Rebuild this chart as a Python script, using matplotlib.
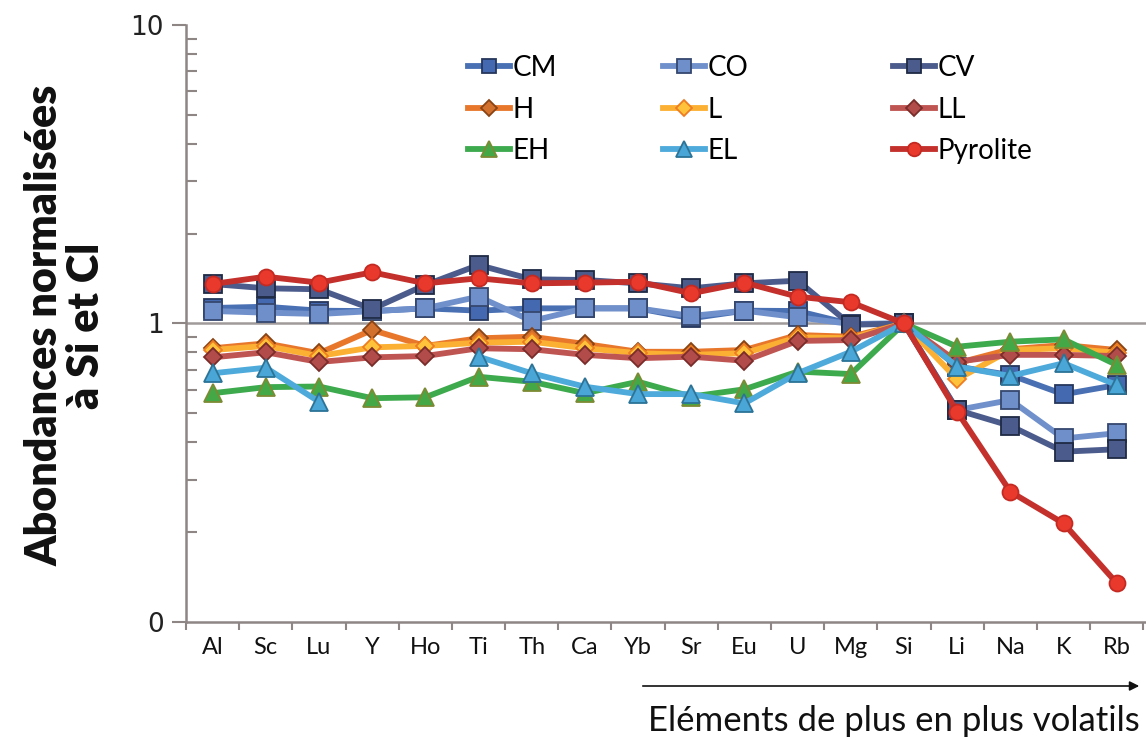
import numpy as np
import matplotlib
matplotlib.use("Agg")
import matplotlib.pyplot as plt
from matplotlib.ticker import FixedLocator, NullFormatter

plt.rcParams["font.family"] = ["Lato", "DejaVu Sans"]

# ─── data ─────────────────────────────────────────────────────────────────────
elements = ["Al", "Sc", "Lu", "Y", "Ho", "Ti", "Th", "Ca", "Yb", "Sr", "Eu",
            "U", "Mg", "Si", "Li", "Na", "K", "Rb"]
nan = np.nan

cm = [1.127, 1.138, 1.104, 1.10, 1.124, 1.104, 1.124, 1.124, 1.124, 1.041,
      1.104, 1.101, 0.996, 1.0, 0.717, 0.672, 0.579, 0.622]
co = [1.101, 1.087, 1.076, 1.10, 1.124, 1.230, 1.020, 1.124, 1.124, 1.060,
      1.104, 1.049, 0.996, 1.0, 0.513, 0.554, 0.412, 0.429]
cv = [1.356, 1.312, 1.302, 1.118, 1.346, 1.570, 1.406, 1.399, 1.363, 1.312,
      1.363, 1.391, 0.990, 1.0, 0.513, 0.454, 0.372, 0.379]
h = [0.826, 0.858, 0.795, 0.951, 0.841, 0.892, 0.903, 0.854, 0.804, 0.804,
     0.815, 0.915, 0.903, 1.0, 0.736, 0.820, 0.847, 0.815]
l = [0.815, 0.841, 0.778, 0.832, 0.841, 0.862, 0.869, 0.826, 0.795, 0.785,
     0.795, 0.899, 0.892, 1.0, 0.650, 0.815, 0.826, 0.798]
ll = [0.770, 0.801, 0.743, 0.770, 0.778, 0.826, 0.820, 0.785, 0.765, 0.774,
      0.750, 0.874, 0.880, 1.0, 0.745, 0.785, 0.785, 0.778]
eh = [0.584, 0.612, 0.615, 0.562, 0.566, 0.663, 0.638, 0.584, 0.638, 0.569,
      0.602, 0.690, 0.677, 1.0, 0.836, 0.869, 0.885, 0.726]
el = [0.681, 0.711, 0.547, nan, nan, 0.774, 0.681, 0.614, 0.580, 0.580,
      0.540, 0.681, 0.804, 1.0, 0.717, 0.667, 0.736, 0.622]
pyrolite = [1.356, 1.435, 1.370, 1.484, 1.363, 1.417, 1.363, 1.370, 1.380, 1.262,
            1.370, 1.230, 1.178, 1.0, 0.506, 0.273, 0.214, 0.135]

# ─── styles ───────────────────────────────────────────────────────────────────
SERIES = [
    ("CM", cm, dict(color="#4a70b4", marker="s", ms=12.5, mfc="#4469b0", mec="#26375c")),
    ("CO", co, dict(color="#7090cc", marker="s", ms=12.5, mfc="#6f8fcb", mec="#35476e")),
    ("CV", cv, dict(color="#4b5b8c", marker="s", ms=12.5, mfc="#4b5b8c", mec="#1f2a44")),
    ("H", h, dict(color="#e8772c", marker="D", ms=9.5, mfc="#d2702e", mec="#8a4414")),
    ("L", l, dict(color="#fbb034", marker="D", ms=9.5, mfc="#ffc23a", mec="#ee7d22")),
    ("LL", ll, dict(color="#bf5552", marker="D", ms=9.5, mfc="#b14c4a", mec="#7a2c2a")),
    ("EH", eh, dict(color="#3eaa4e", marker="^", ms=13, mfc="#45a846", mec="#7d8a34")),
    ("EL", el, dict(color="#4eaadb", marker="^", ms=13, mfc="#4aa6d6", mec="#2c7396")),
    ("Pyrolite", pyrolite, dict(color="#c4302b", marker="o", ms=11.5, mfc="#e8392c", mec="#c42a22")),
]

AXIS_GREY = "#8e8585"

fig = plt.figure(figsize=(11.46, 7.40), dpi=100)
ax = fig.add_axes([0.1623, 0.1595, 0.8377, 0.8067])

x = np.arange(len(elements))
handles = {}
for z, (name, vals, st) in enumerate(SERIES):
    line, = ax.plot(x, vals, color=st["color"], lw=4.2, marker=st["marker"],
                    markersize=st["ms"], markerfacecolor=st["mfc"],
                    markeredgecolor=st["mec"], markeredgewidth=1.3,
                    zorder=3 + z, label=name, clip_on=False)
    handles[name] = line

ax.axhline(1.0, color="#a09a9a", lw=1.8, zorder=2)

ax.set_yscale("log")
ax.set_ylim(0.1, 10)
ax.set_xlim(-0.5, 17.55)

ax.yaxis.set_major_locator(FixedLocator([0.1, 1, 10]))
ax.set_yticklabels(["0", "1", "10"], fontsize=19, family="DejaVu Sans", color="#222222")
ax.yaxis.set_minor_locator(FixedLocator(
    [k * 0.1 for k in range(2, 10)] + [k * 1.0 for k in range(2, 10)]))
ax.yaxis.set_minor_formatter(NullFormatter())
ax.tick_params(axis="y", which="major", direction="out", length=10, width=1.5,
               color=AXIS_GREY, pad=6)
ax.tick_params(axis="y", which="minor", direction="in", length=8, width=1.5,
               color=AXIS_GREY)

ax.set_xticks(x)
ax.set_xticklabels(elements, fontsize=17, color="#111111")
ax.xaxis.set_minor_locator(FixedLocator(np.arange(-0.5, 17.6, 1.0)))
ax.tick_params(axis="x", which="major", length=0, pad=11)
ax.tick_params(axis="x", which="minor", direction="out", length=6, width=1.5,
               color=AXIS_GREY)

for side in ("top", "right"):
    ax.spines[side].set_visible(False)
for side in ("left", "bottom"):
    ax.spines[side].set_color(AXIS_GREY)
    ax.spines[side].set_linewidth(1.8)

# y label, two centred lines
fig.text(0.057, 0.56, "Abondances normalisées\nà Si et Cl", rotation=90,
         ha="center", va="center", fontsize=31, fontweight="heavy",
         linespacing=1.05, color="#111111")

# arrow + caption under the volatile elements
ax.annotate("", xy=(1142 / 1146, 1 - 686 / 740), xytext=(640 / 1146, 1 - 686 / 740),
            xycoords="figure fraction", textcoords="figure fraction",
            arrowprops=dict(arrowstyle="-|>", color="#111111", lw=1.2,
                            mutation_scale=14))
fig.text(1140 / 1146, 1 - 721 / 740, "Eléments de plus en plus volatils",
         ha="right", va="center", fontsize=25, color="#111111")

# legend in three columns, placed one column at a time
columns = [["CM", "H", "EH"], ["CO", "L", "EL"], ["CV", "LL", "Pyrolite"]]
col_x = [468 / 1146, 663 / 1146, 893 / 1146]
for names, cx in zip(columns, col_x):
    fig.legend([handles[n] for n in names], names, loc="upper left",
               bbox_to_anchor=(cx, 1 - 55 / 740), frameon=False,
               fontsize=20, handlelength=1.5, handletextpad=0.1,
               labelspacing=0.56, borderpad=0, borderaxespad=0,
               markerscale=0.85)

fig.savefig("out.png", dpi=100)
